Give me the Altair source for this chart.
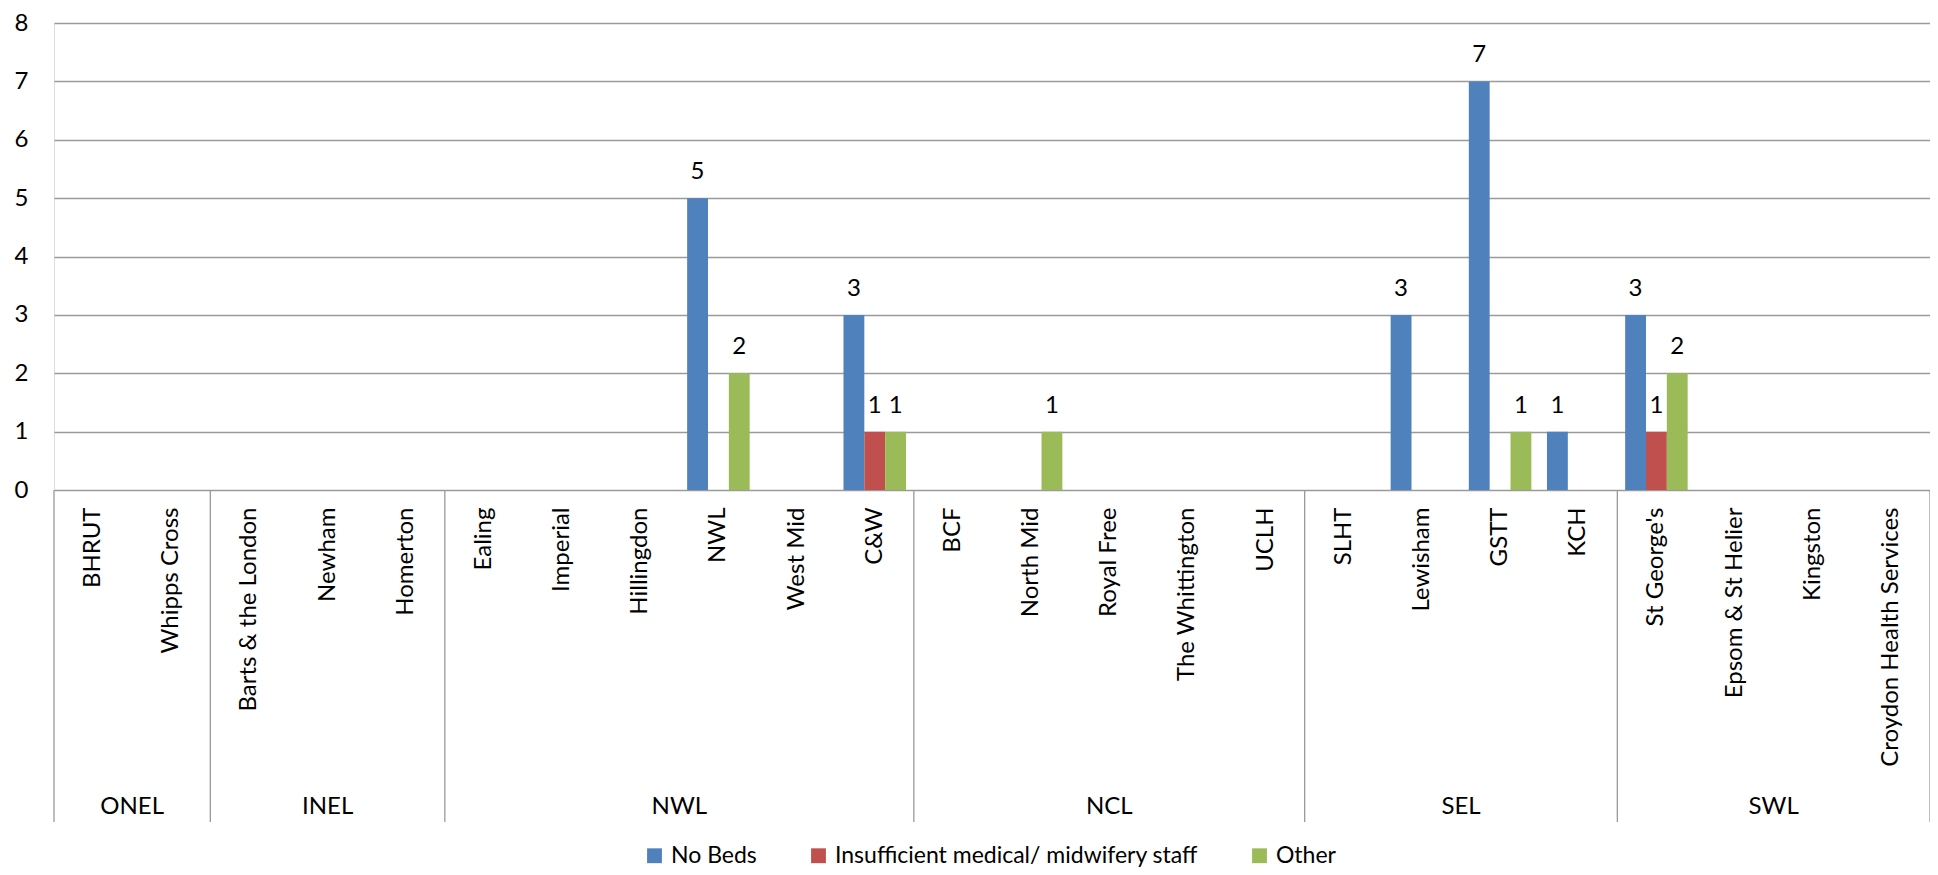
import altair as alt
import pandas as pd

FONT = "Lato"

groups = ["ONEL", "INEL", "NWL", "NCL", "SEL", "SWL"]
group_sizes = [2, 3, 6, 5, 4, 4]
hospitals = ["BHRUT", "Whipps Cross", "Barts & the London", "Newham", "Homerton",
             "Ealing", "Imperial", "Hillingdon", "NWL", "West Mid", "C&W",
             "BCF", "North Mid", "Royal Free", "The Whittington", "UCLH",
             "SLHT", "Lewisham", "GSTT", "KCH",
             "St George's", "Epsom & St Helier", "Kingston", "Croydon Health Services"]
series = ["No Beds", "Insufficient medical/ midwifery staff", "Other"]
no_beds = [0, 0, 0, 0, 0, 0, 0, 0, 5, 0, 3, 0, 0, 0, 0, 0, 0, 3, 7, 1, 3, 0, 0, 0]
insufficient = [0, 0, 0, 0, 0, 0, 0, 0, 0, 0, 1, 0, 0, 0, 0, 0, 0, 0, 0, 0, 1, 0, 0, 0]
other = [0, 0, 0, 0, 0, 0, 0, 0, 2, 0, 1, 0, 1, 0, 0, 0, 0, 0, 1, 0, 2, 0, 0, 0]
colors = ["#4F81BD", "#C0504D", "#9BBB59"]

rows = []
for s, vals in zip(series, [no_beds, insufficient, other]):
    for h, v in zip(hospitals, vals):
        rows.append({"hospital": h, "series": s, "value": v})
df = pd.DataFrame(rows)

bounds = [0]
for n in group_sizes:
    bounds.append(bounds[-1] + n)
sep_df = pd.DataFrame({"pos": bounds})
grp_df = pd.DataFrame({"group": groups,
                       "mid": [(bounds[i] + bounds[i + 1]) / 2 for i in range(len(groups))]})

GRID = "#9a9a9a"
FS = 24
TOP = 15
H = 467

x_enc = alt.X("hospital:N", sort=hospitals,
              scale=alt.Scale(domain=hospitals, paddingInner=0.2, paddingOuter=0.1),
              axis=alt.Axis(title=None, labelAngle=-90, labelAlign="right", labelBaseline="middle",
                            labelPadding=17, ticks=False, domain=False, grid=False,
                            labelFontSize=FS, labelFont=FONT, labelColor="black", labelLimit=500))
y_enc = alt.Y("value:Q", scale=alt.Scale(domain=[0, 8], nice=False),
              axis=alt.Axis(title=None, values=list(range(9)), grid=True, gridColor=GRID,
                            gridWidth=1.3, domain=False, ticks=False, labelPadding=26,
                            labelFontSize=FS, labelFont=FONT, labelColor="black"))
xo_enc = alt.XOffset("series:N", sort=series,
                     scale=alt.Scale(domain=series, paddingInner=0, paddingOuter=0))

base = alt.Chart(df).transform_filter("datum.value > 0")

bars = base.mark_bar().encode(
    x=x_enc, xOffset=xo_enc, y=y_enc,
    color=alt.Color("series:N", sort=series,
                    scale=alt.Scale(domain=series, range=colors),
                    legend=alt.Legend(title=None, orient="none", direction="horizontal",
                                      legendX=589, legendY=821, symbolType="square",
                                      symbolSize=220, symbolStrokeWidth=0, labelFontSize=23,
                                      labelFont=FONT, labelColor="black", columnPadding=50,
                                      labelOffset=5, labelLimit=600))
)
labels = base.mark_text(baseline="alphabetic", dy=-19, fontSize=FS, font=FONT, color="black").encode(
    x=x_enc, xOffset=xo_enc, y=y_enc, text="value:Q"
)

qscale = alt.Scale(domain=[0, len(hospitals)], nice=False, zero=False)
seps = alt.Chart(sep_df).mark_rule(color=GRID, strokeWidth=1.3).encode(
    x=alt.X("pos:Q", scale=qscale, axis=None),
    y=alt.value(H), y2=alt.value(799)
)
gtext = alt.Chart(grp_df).mark_text(fontSize=FS, font=FONT, color="black", baseline="middle").encode(
    x=alt.X("mid:Q", scale=qscale, axis=None),
    y=alt.value(784), text="group:N"
)

chart = alt.layer(alt.layer(bars, labels), alt.layer(seps, gtext)).resolve_scale(
    x="independent"
).properties(
    width=1876, height=H,
    autosize=alt.AutoSizeParams(type="none"),
    padding={"left": 46, "top": TOP, "right": 0, "bottom": 859 - TOP - H},
).configure_view(stroke=None).configure(background="white")

chart.save("out.html", embed_options={"renderer": "svg", "actions": False})
